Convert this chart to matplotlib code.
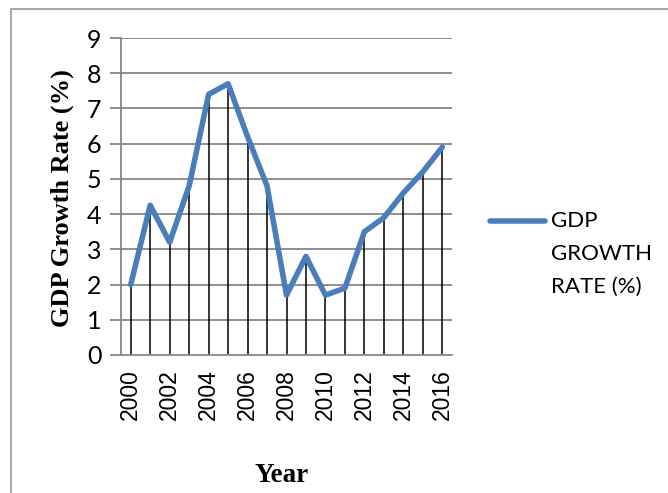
import numpy as np
import matplotlib.pyplot as plt
from matplotlib.lines import Line2D
from matplotlib.patches import Rectangle

years = list(range(2000, 2017))
gdp_growth = [2.0, 4.25, 3.2, 4.8, 7.4, 7.7, 6.2, 4.8, 1.7, 2.8, 1.7, 1.9, 3.5, 3.9, 4.6, 5.2, 5.9]
tick_years = years[::2]
y_ticks = list(range(0, 10))

blue = '#4a7ebb'
grey = '#868686'

fig = plt.figure(figsize=(6.68, 4.93), dpi=100)
ax = fig.add_axes([121 / 668, 1 - 355 / 493, (452 - 121) / 668, (355 - 38) / 493])

x = np.arange(len(years))

# grid + drop lines
for yv in y_ticks[1:]:
    ax.axhline(yv, color=grey, linewidth=1.3, zorder=1)
ax.vlines(x, 0, gdp_growth, color='black', linewidth=1.1, zorder=2)
ax.plot(x, gdp_growth, color=blue, linewidth=4, solid_capstyle='round', zorder=3)

ax.set_xlim(-0.5, len(years) - 0.5)
ax.set_ylim(0, 9)
ax.set_yticks(y_ticks)
ax.set_yticklabels([str(v) for v in y_ticks], fontfamily='Lato', fontsize=18)
ax.set_xticks(x[::2])
ax.set_xticklabels([str(v) for v in tick_years], rotation=90, fontfamily='Liberation Sans', fontsize=16.5)
ax.tick_params(axis='x', length=0, pad=10)
ax.tick_params(axis='y', length=8, width=1.3, color=grey, pad=6)

for side in ['top', 'right']:
    ax.spines[side].set_visible(False)
for side in ['left', 'bottom']:
    ax.spines[side].set_color(grey)
    ax.spines[side].set_linewidth(1.3)

ax.set_ylabel('GDP Growth Rate (%)', fontfamily='Liberation Serif', fontweight='bold', fontsize=19)
ax.yaxis.set_label_coords(-0.142, 0.494)
fig.text(282 / 668, 1 - 475 / 493, 'Year', fontfamily='Liberation Serif', fontweight='bold',
         fontsize=19.5, ha='center', va='center')

# legend
fig.add_artist(Line2D([490 / 668, 545 / 668], [1 - 221 / 493, 1 - 221 / 493], color=blue,
                      linewidth=4, solid_capstyle='round'))
fig.text(551 / 668, 1 - 221 / 493, 'GDP', fontfamily='Lato', fontsize=16, va='center')
fig.text(551 / 668, 1 - 254 / 493, 'GROWTH', fontfamily='Lato', fontsize=16, va='center')
fig.text(551 / 668, 1 - 287 / 493, 'RATE (%)', fontfamily='Lato', fontsize=16, va='center')

# outer frame
fig.add_artist(Rectangle((11 / 668, -0.1), 1.2, 1.1 - 9 / 493, transform=fig.transFigure,
                         fill=False, edgecolor='#a0a0a0', linewidth=1.3, clip_on=False))

fig.savefig('out.png', dpi=100)
